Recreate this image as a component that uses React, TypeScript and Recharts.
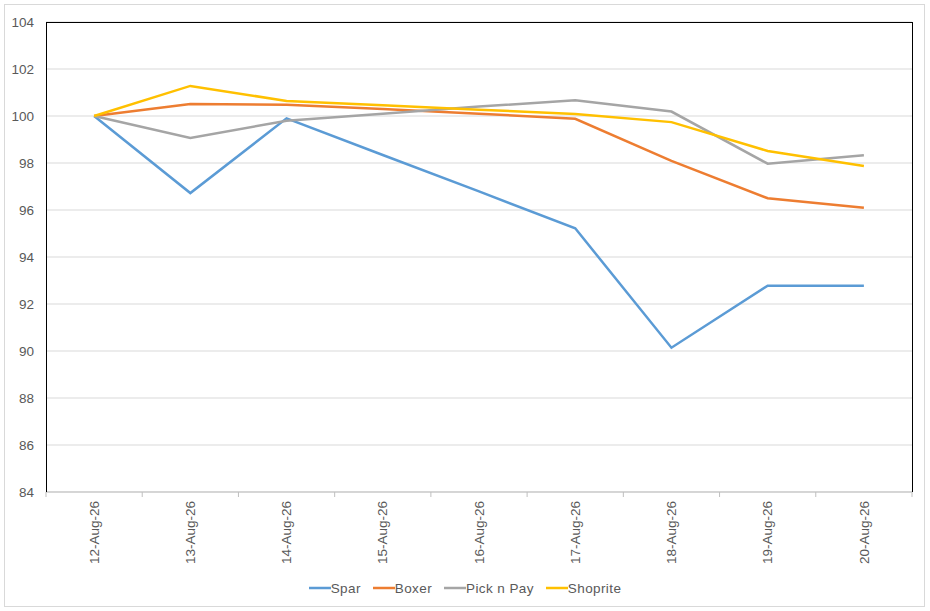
import {
  LineChart,
  Line,
  XAxis,
  YAxis,
  CartesianGrid,
  Legend,
} from 'recharts'

const dates = [
  '12-Aug-26',
  '13-Aug-26',
  '14-Aug-26',
  '15-Aug-26',
  '16-Aug-26',
  '17-Aug-26',
  '18-Aug-26',
  '19-Aug-26',
  '20-Aug-26',
]

const spar = [100, 96.72, 99.9, 98.34, 96.79, 95.22, 90.14, 92.78, 92.78]
const boxer = [100, 100.51, 100.48, 100.3, 100.1, 99.88, 98.09, 96.5, 96.1]
const pickNPay = [100, 99.06, 99.8, 100.1, 100.4, 100.67, 100.19, 97.97, 98.33]
const shoprite = [100, 101.28, 100.64, 100.46, 100.27, 100.09, 99.74, 98.51, 97.87]

const yTicks = [84, 86, 88, 90, 92, 94, 96, 98, 100, 102, 104]

const series = [
  { key: 'spar', name: 'Spar', color: '#5b9bd5' },
  { key: 'boxer', name: 'Boxer', color: '#ed7d31' },
  { key: 'pickNPay', name: 'Pick n Pay', color: '#a5a5a5' },
  { key: 'shoprite', name: 'Shoprite', color: '#ffc000' },
]

const data = dates.map((date, i) => ({
  date,
  spar: spar[i],
  boxer: boxer[i],
  pickNPay: pickNPay[i],
  shoprite: shoprite[i],
}))

const W = 930
const H = 611
const X_AXIS_H = 110
const MARGIN = { top: 22, right: 18, bottom: 119 - X_AXIS_H, left: 6 }
const Y_AXIS_W = 40
const PLOT_LEFT = MARGIN.left + Y_AXIS_W
const PLOT_W = W - PLOT_LEFT - MARGIN.right
const PLOT_H = H - MARGIN.top - MARGIN.bottom - X_AXIS_H
const HALF_BAND = PLOT_W / dates.length / 2
const FONT = '"Liberation Sans", Arial, sans-serif'
const TEXT = '#595959'

function DateTick(props: any) {
  const { x, y, payload, index } = props
  return (
    <g>
      <line x1={x - HALF_BAND} x2={x - HALF_BAND} y1={y} y2={y + 5} stroke="#bfbfbf" />
      {index === dates.length - 1 && (
        <line x1={x + HALF_BAND} x2={x + HALF_BAND} y1={y} y2={y + 5} stroke="#bfbfbf" />
      )}
      <text
        x={x}
        y={y + 9}
        dy="0.35em"
        transform={`rotate(-90, ${x}, ${y + 9})`}
        textAnchor="end"
        fill={TEXT}
        fontSize={13.5}
        fontFamily={FONT}
      >
        {payload.value}
      </text>
    </g>
  )
}

function LegendContent() {
  return (
    <div
      style={{
        display: 'flex',
        justifyContent: 'center',
        alignItems: 'center',
        fontFamily: FONT,
        fontSize: 13.5,
        color: TEXT,
        height: 20,
        letterSpacing: 0.4,
      }}
    >
      {series.map((s, i) => (
        <div
          key={s.key}
          style={{ display: 'flex', alignItems: 'center', marginLeft: i === 0 ? 0 : 12 }}
        >
          <svg width={22} height={10}>
            <line x1={0} x2={22} y1={5} y2={5} stroke={s.color} strokeWidth={2.5} />
          </svg>
          <span>{s.name}</span>
        </div>
      ))}
    </div>
  )
}

export default function App() {
  return (
    <div style={{ position: 'absolute', left: 0, top: 0, width: W, height: H, background: '#fff' }}>
      <div
        style={{
          position: 'absolute',
          left: 4,
          top: 4,
          width: 921,
          height: 603,
          border: '1px solid #d9d9d9',
          boxSizing: 'border-box',
        }}
      />
      <div style={{ position: 'absolute', left: 0, top: 0 }}>
        <LineChart width={W} height={H} data={data} margin={MARGIN}>
          <CartesianGrid vertical={false} stroke="#d9d9d9" />
          <XAxis
            dataKey="date"
            padding={{ left: HALF_BAND, right: HALF_BAND }}
            axisLine={{ stroke: '#bfbfbf' }}
            tickLine={false}
            tickSize={0}
            tickMargin={0}
            interval={0}
            height={X_AXIS_H}
            tick={<DateTick />}
          />
          <YAxis
            domain={[84, 104]}
            ticks={yTicks}
            width={Y_AXIS_W}
            axisLine={false}
            tickLine={false}
            tickSize={0}
            tickMargin={12}
            tick={{ fill: TEXT, fontSize: 13.5, fontFamily: FONT }}
          />
          {series.map((s) => (
            <Line
              key={s.key}
              type="linear"
              dataKey={s.key}
              name={s.name}
              stroke={s.color}
              strokeWidth={2.5}
              dot={false}
              isAnimationActive={false}
            />
          ))}
          <Legend
            layout="horizontal"
            verticalAlign="middle"
            align="center"
            wrapperStyle={{ top: 578, left: 0, width: W }}
            content={<LegendContent />}
          />
        </LineChart>
      </div>
      {/* plot-area frame: black on left, top and right */}
      <div
        style={{
          position: 'absolute',
          left: PLOT_LEFT - 0.5,
          top: MARGIN.top - 0.5,
          width: PLOT_W + 1,
          height: PLOT_H + 0.5,
          borderLeft: '1px solid #000',
          borderTop: '1px solid #000',
          borderRight: '1px solid #000',
          boxSizing: 'border-box',
          pointerEvents: 'none',
        }}
      />
    </div>
  )
}
